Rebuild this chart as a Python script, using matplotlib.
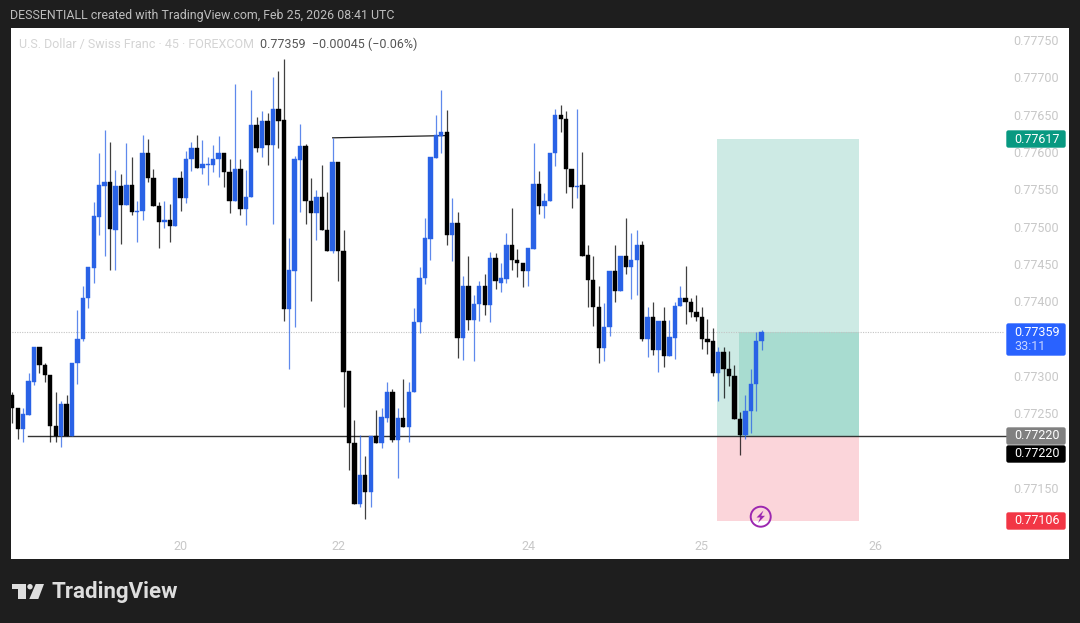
import matplotlib
matplotlib.use('Agg')
import matplotlib.pyplot as plt
import numpy as np
from matplotlib.patches import Rectangle, FancyBboxPatch, Polygon, Circle
from matplotlib.transforms import Affine2D

# USDCHF 45m candles, prices in points (1e-5)
opens = [77275, 77257, 77229, 77248, 77292, 77339, 77315, 77301, 77233, 77219,
         77262, 77219, 77318, 77349, 77405, 77445, 77513, 77555, 77560, 77496,
         77555, 77529, 77556, 77520, 77521, 77599, 77565, 77528, 77506, 77509,
         77501, 77565, 77539, 77590, 77606, 77579, 77583, 77583, 77590, 77599,
         77573, 77534, 77577, 77524, 77540, 77636, 77606, 77642, 77609, 77657,
         77643, 77390, 77441, 77589, 77608, 77534, 77518, 77540, 77496, 77468,
         77587, 77468, 77307, 77210, 77129, 77168, 77145, 77219, 77210, 77244,
         77279, 77214, 77244, 77232, 77278, 77372, 77431, 77484, 77592, 77622,
         77627, 77489, 77505, 77351, 77421, 77375, 77396, 77421, 77395, 77458,
         77425, 77430, 77475, 77456, 77451, 77441, 77470, 77557, 77528, 77534,
         77598, 77649, 77644, 77577, 77553, 77556, 77462, 77429, 77393, 77338,
         77365, 77440, 77414, 77461, 77446, 77456, 77475, 77350, 77379, 77335,
         77373, 77327, 77351, 77394, 77405, 77399, 77386, 77379, 77350, 77347,
         77304, 77332, 77309, 77300, 77242, 77221, 77253, 77289, 77347]
highs = [77278, 77257, 77257, 77304, 77339, 77339, 77317, 77301, 77279, 77267,
         77274, 77318, 77388, 77420, 77446, 77533, 77598, 77629, 77614, 77576,
         77571, 77612, 77593, 77535, 77623, 77617, 77577, 77533, 77535, 77531,
         77565, 77574, 77602, 77614, 77623, 77616, 77593, 77610, 77621, 77599,
         77591, 77691, 77591, 77576, 77683, 77647, 77655, 77652, 77700, 77709,
         77724, 77485, 77595, 77638, 77611, 77565, 77549, 77583, 77546, 77619,
         77587, 77496, 77307, 77241, 77221, 77193, 77219, 77255, 77257, 77292,
         77282, 77257, 77296, 77292, 77391, 77446, 77512, 77593, 77649, 77683,
         77656, 77539, 77519, 77434, 77461, 77408, 77427, 77436, 77466, 77465,
         77452, 77492, 77525, 77470, 77451, 77471, 77612, 77574, 77545, 77598,
         77658, 77663, 77655, 77577, 77658, 77600, 77476, 77461, 77420, 77398,
         77440, 77475, 77461, 77511, 77492, 77495, 77481, 77393, 77399, 77373,
         77392, 77375, 77399, 77420, 77447, 77405, 77409, 77393, 77377, 77364,
         77339, 77339, 77333, 77315, 77252, 77275, 77309, 77359, 77361]
lows = [77237, 77215, 77212, 77248, 77288, 77304, 77292, 77212, 77211, 77205,
        77219, 77219, 77289, 77347, 77391, 77424, 77489, 77461, 77442, 77442,
        77477, 77529, 77515, 77480, 77509, 77560, 77528, 77471, 77498, 77480,
        77501, 77521, 77532, 77575, 77579, 77570, 77556, 77573, 77567, 77553,
        77518, 77534, 77516, 77502, 77540, 77600, 77593, 77583, 77503, 77606,
        77373, 77309, 77366, 77520, 77503, 77400, 77482, 77496, 77468, 77465,
        77427, 77258, 77174, 77129, 77124, 77108, 77124, 77210, 77203, 77238,
        77212, 77163, 77232, 77212, 77278, 77357, 77423, 77456, 77592, 77598,
        77476, 77454, 77324, 77321, 77362, 77320, 77374, 77382, 77372, 77417,
        77412, 77425, 77442, 77433, 77419, 77421, 77470, 77517, 77511, 77534,
        77581, 77627, 77545, 77525, 77539, 77461, 77393, 77367, 77318, 77320,
        77354, 77399, 77414, 77437, 77403, 77408, 77347, 77326, 77328, 77306,
        77312, 77327, 77323, 77394, 77370, 77379, 77373, 77336, 77330, 77300,
        77267, 77271, 77287, 77242, 77194, 77215, 77223, 77253, 77335]
closes = [77257, 77229, 77249, 77293, 77339, 77315, 77301, 77233, 77219, 77262,
          77219, 77318, 77350, 77405, 77446, 77514, 77556, 77560, 77497, 77555,
          77529, 77556, 77520, 77521, 77599, 77565, 77528, 77506, 77509, 77501,
          77565, 77539, 77590, 77606, 77579, 77584, 77584, 77590, 77599, 77573,
          77534, 77577, 77523, 77540, 77636, 77606, 77642, 77609, 77657, 77642,
          77390, 77442, 77590, 77608, 77534, 77518, 77540, 77496, 77468, 77587,
          77467, 77306, 77210, 77129, 77168, 77145, 77219, 77210, 77245, 77279,
          77214, 77244, 77232, 77278, 77372, 77431, 77485, 77593, 77623, 77627,
          77489, 77505, 77351, 77421, 77375, 77397, 77421, 77395, 77458, 77427,
          77431, 77475, 77456, 77451, 77441, 77471, 77557, 77528, 77534, 77598,
          77649, 77644, 77577, 77553, 77555, 77461, 77429, 77393, 77338, 77365,
          77440, 77414, 77461, 77446, 77456, 77475, 77350, 77379, 77335, 77373,
          77327, 77352, 77394, 77405, 77399, 77386, 77379, 77350, 77345, 77304,
          77332, 77309, 77300, 77242, 77221, 77253, 77289, 77347, 77359]

# 0.77350, 0.77200 and 0.77100 sit under the price tags, so they are left out
price_ticks = [0.7775, 0.7770, 0.7765, 0.7760, 0.7755, 0.7750, 0.7745, 0.7740,
               0.7730, 0.7725, 0.7715]
day_ticks = [31, 60, 95, 127, 159]
day_labels = ['20', '22', '24', '25', '26']

# long position tool
stop_price = 0.77106
entry_price = 0.77220
target_price = 0.77617
last_price = 0.77359

BG = '#1e1e1e'
BLUE = '#2962e6'
LABEL = '#c8c8c8'
plt.rcParams['font.family'] = ['Roboto', 'DejaVu Sans']

W, H = 1080, 623
fig = plt.figure(figsize=(W / 100, H / 100), dpi=100, facecolor=BG)
ax = fig.add_axes([11 / W, 1 - 559 / H, (1069 - 11) / W, (559 - 28) / H], facecolor='white')
for s in ax.spines.values():
    s.set_visible(False)

# pixel coords from top left, for overlays
px = Affine2D().scale(1, -1).translate(0, H)

o = np.array(opens) / 1e5
h = np.array(highs) / 1e5
l = np.array(lows) / 1e5
c = np.array(closes) / 1e5
x = np.arange(len(o))
cols = [BLUE if cc >= oo else '#000000' for oo, cc in zip(o, c)]

# position zones
ax.add_patch(Rectangle((129.8, entry_price), 26.1, target_price - entry_price, fc='#cdeae4', ec='none', zorder=1))
ax.add_patch(Rectangle((129.8, stop_price), 26.1, entry_price - stop_price, fc='#fbd5da', ec='none', zorder=1))
ax.add_patch(Rectangle((133.8, entry_price), 22.1, last_price - entry_price, fc='#a8dcd0', ec='none', zorder=1.5))

ax.plot([2.9, 183.0], [entry_price, entry_price], color='#333333', lw=1, zorder=2)
ax.plot([-1, 182.5], [last_price, last_price], color='#c4c4c4', lw=0.8, ls=(0, (1, 1.2)), zorder=2)
ax.plot([59, 80], [0.77619, 0.77622], color='#222222', lw=0.9, zorder=2)

ax.vlines(x, l, h, colors=cols, lw=0.9, alpha=0.75, zorder=3)
ax.bar(x, c - o, bottom=o, width=0.8, color=cols, edgecolor=cols, linewidth=0.3, zorder=4)

ax.set_xlim((11 - 12.3) / 5.43, (1069 - 12.3) / 5.43)
ax.set_ylim(0.7775 - (559 - 40) * 1.3393e-5, 0.7775 + (40 - 28) * 1.3393e-5)
ax.set_xticks(day_ticks)
ax.set_xticklabels(day_labels)
ax.set_yticks(price_ticks)
ax.set_yticklabels([f'{p:.5f}' for p in price_ticks])
ax.yaxis.tick_right()
ax.tick_params(axis='y', length=0, pad=-40, labelsize=9, labelcolor=LABEL)
ax.tick_params(axis='x', length=0, pad=-13.5, labelsize=9, labelcolor=LABEL)

# price labels on the scale
def price_tag(y0, y1, color):
    fig.add_artist(FancyBboxPatch((1007, y0 + 1), 58, y1 - y0 - 2, boxstyle='round,pad=0,rounding_size=1.5',
                                  fc=color, ec=color, lw=1, transform=px))

def tag_text(y, s, color='white'):
    fig.add_artist(plt.Text(1014.5, y, s, color=color, fontsize=9, va='center', ha='left', transform=px))

price_tag(130, 148, '#089981')
tag_text(139.5, '0.77617')
price_tag(323, 356, '#2962ff')
tag_text(332, '0.77359')
tag_text(347, '33:11', '#c9d6ff')
price_tag(427, 445, '#808080')
tag_text(435.5, '0.77220')
price_tag(445, 463, '#000000')
tag_text(453.5, '0.77220')
price_tag(512, 530, '#f23645')
tag_text(521, '0.77106')

# lightning badge
fig.add_artist(Circle((760.7, 516.7), 10, fc='none', ec='#9c27b0', lw=1.4, transform=px))
fig.add_artist(Polygon([(763.5, 510.5), (756.5, 517.5), (760.3, 517.5), (758, 523), (765, 515.8), (761.2, 515.8)],
                       closed=True, fc='#9c27b0', ec='none', transform=px))

# header and legend
fig.add_artist(plt.Text(10, 16, 'DESSENTIALL created with TradingView.com, Feb 25, 2026 08:41 UTC', color='#bdbdbd',
                        fontsize=8.95, va='center', ha='left', transform=px))
fig.add_artist(plt.Text(19, 44.5, 'U.S. Dollar / Swiss Franc · 45 · FOREXCOM', color='#d4d4d4',
                        fontsize=9, va='center', ha='left', transform=px))
fig.add_artist(plt.Text(260, 44.5, '0.77359  −0.00045 (−0.06%)', color='#555555',
                        fontsize=9, va='center', ha='left', transform=px))

# TradingView logo
LOGO = '#dedede'
fig.add_artist(Polygon([(12.3, 584), (25.7, 584), (25.7, 599), (18.3, 599), (18.3, 589), (12.3, 589)],
                       closed=True, fc=LOGO, ec='none', transform=px))
fig.add_artist(Circle((30, 586.7), 2.7, fc=LOGO, ec='none', transform=px))
fig.add_artist(Polygon([(35.7, 584), (44, 584), (38.3, 599), (29.3, 599)], closed=True, fc=LOGO, ec='none', transform=px))
fig.add_artist(plt.Text(51, 592, 'TradingView', color=LOGO, fontsize=16, fontweight='bold', va='center', ha='left',
                        transform=px))

fig.savefig('out.png', dpi=100, facecolor=BG)
